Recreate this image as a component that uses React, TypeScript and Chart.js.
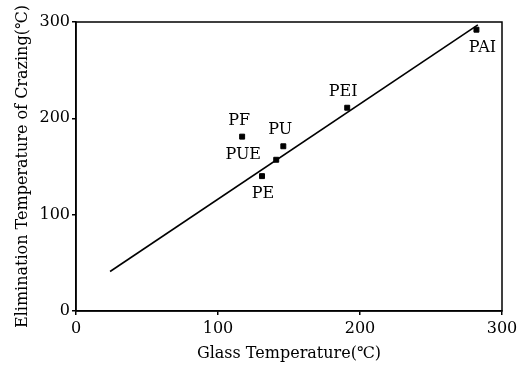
import React, { useEffect, useRef } from "react";
import { Chart, registerables } from "chart.js";

Chart.register(...registerables);

const materials = ["PF", "PUE", "PU", "PE", "PEI", "PAI"];
const glassTemps = [117, 141, 146, 131, 191, 282];
const crazingTemps = [181, 157, 171, 140, 211, 292];
const fitLineX = [24, 283];
const fitLineY = [41, 297];
const xTicks = [0, 100, 200, 300];
const yTicks = [0, 100, 200, 300];

const labelOffsets: Record<string, [number, number]> = {
  PF: [-3, -16],
  PUE: [-33, -5],
  PU: [-3, -16],
  PE: [1, 18],
  PEI: [-4, -16],
  PAI: [6, 18],
};

const FONT = "'DejaVu Serif', 'Liberation Serif', serif";

export default function App() {
  const ref = useRef<HTMLCanvasElement | null>(null);
  useEffect(() => {
    document.body.style.margin = "0";
    const canvas = ref.current;
    if (!canvas) return;

    const framePlugin = {
      id: "frame",
      afterDatasetsDraw(chart: any) {
        const { ctx, chartArea } = chart;
        ctx.save();
        ctx.strokeStyle = "#000";
        ctx.lineWidth = 1.5;
        ctx.strokeRect(chartArea.left, chartArea.top, chartArea.right - chartArea.left, chartArea.bottom - chartArea.top);
        const meta = chart.getDatasetMeta(1);
        ctx.fillStyle = "#000";
        ctx.font = `16px ${FONT}`;
        ctx.textAlign = "center";
        ctx.textBaseline = "middle";
        meta.data.forEach((el: any, i: number) => {
          const name = materials[i];
          const off = labelOffsets[name] || [0, -14];
          ctx.fillText(name, el.x + off[0], el.y + off[1]);
        });
        ctx.restore();
      },
    };

    const chart = new Chart(canvas, {
      type: "scatter",
      data: {
        datasets: [
          {
            type: "line",
            data: fitLineX.map((x, i) => ({ x, y: fitLineY[i] })),
            borderColor: "#000",
            borderWidth: 1.6,
            pointRadius: 0,
            fill: false,
          } as any,
          {
            data: glassTemps.map((x, i) => ({ x, y: crazingTemps[i] })),
            pointStyle: "rect",
            pointRadius: 3.5,
            backgroundColor: "#000",
            borderColor: "#000",
          },
        ],
      },
      options: {
        animation: false,
        responsive: false,
        devicePixelRatio: 1,
        layout: { padding: { left: 13, top: 22, right: 21, bottom: 0 } },
        plugins: { legend: { display: false }, tooltip: { enabled: false } },
        scales: {
          x: {
            type: "linear",
            min: 0,
            max: 300,
            afterBuildTicks: (s: any) => {
              s.ticks = xTicks.map((v) => ({ value: v }));
            },
            afterFit: (s: any) => {
              s.height = 54;
            },
            ticks: { color: "#000", font: { family: FONT, size: 16 }, padding: 4 },
            grid: { drawOnChartArea: false, drawTicks: true, tickLength: 4, color: "#000", lineWidth: 1.5 },
            border: { display: true, color: "#000", width: 1.5 },
            title: {
              display: true,
              text: "Glass Temperature(℃)",
              color: "#000",
              font: { family: FONT, size: 16 },
              padding: { top: 0, bottom: 2 },
            },
          },
          y: {
            type: "linear",
            min: 0,
            max: 300,
            afterBuildTicks: (s: any) => {
              s.ticks = yTicks.map((v) => ({ value: v }));
            },
            afterFit: (s: any) => {
              s.width = 63;
            },
            ticks: { color: "#000", font: { family: FONT, size: 16 }, padding: 2 },
            grid: { drawOnChartArea: false, drawTicks: true, tickLength: 4, color: "#000", lineWidth: 1.5 },
            border: { display: true, color: "#000", width: 1.5 },
            title: {
              display: true,
              text: "Elimination Temperature of Crazing(℃)",
              color: "#000",
              font: { family: FONT, size: 16 },
              padding: { top: 0, bottom: 4 },
            },
          },
        },
      },
      plugins: [framePlugin],
    });
    return () => chart.destroy();
  }, []);
  return <canvas ref={ref} width={523} height={365} style={{ display: "block" }} />;
}
